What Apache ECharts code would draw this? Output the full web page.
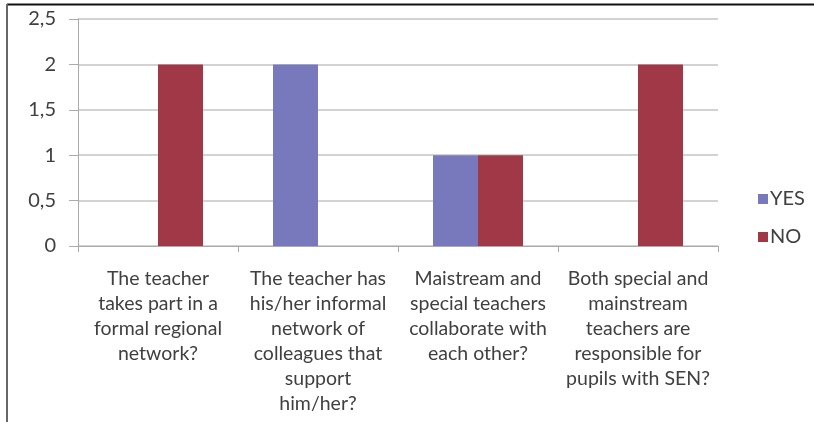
<!DOCTYPE html>
<html>
<head>
<meta charset="utf-8">
<script src="https://cdn.jsdelivr.net/npm/echarts@6/dist/echarts.min.js"></script>
<style>
html,body{margin:0;padding:0;background:#fff;}
#chart{width:814px;height:422px;}
</style>
</head>
<body>
<div id="chart"></div>
<script>
var categories = [
  "The teacher\ntakes part in a\nformal regional\nnetwork?",
  "The teacher has\nhis/her informal\nnetwork of\ncolleagues that\nsupport\nhim/her?",
  "Maistream and\nspecial teachers\ncollaborate with\neach other?",
  "Both special and\nmainstream\nteachers are\nresponsible for\npupils with SEN?"
];
var yesValues = [0, 2, 1, 0];
var noValues = [2, 0, 1, 2];
var seriesNames = ["YES", "NO"];

var FONT = "Lato";
var chart = echarts.init(document.getElementById('chart'), null, {renderer: 'canvas'});
chart.setOption({
  animation: false,
  backgroundColor: '#ffffff',
  textStyle: {fontFamily: FONT},
  graphic: [
    {type: 'line', shape: {x1: 7, y1: 4.5, x2: 814, y2: 4.5}, style: {stroke: '#111', lineWidth: 2}},
    {type: 'line', shape: {x1: 7, y1: 4, x2: 7, y2: 422}, style: {stroke: '#666', lineWidth: 2}}
  ],
  grid: {left: 78, right: 96, top: 19, bottom: 176},
  legend: {
    orient: 'vertical',
    left: 753,
    top: 184,
    itemWidth: 10,
    itemHeight: 10,
    itemGap: 18,
    icon: 'rect',
    textStyle: {fontFamily: FONT, fontSize: 20, color: '#404040', padding: [0, 0, 0, -3]},
    data: seriesNames
  },
  xAxis: {
    type: 'category',
    data: categories,
    axisLine: {lineStyle: {color: '#aaaaaa', width: 1}},
    axisTick: {show: true, length: 6, lineStyle: {color: '#aaaaaa'}},
    axisLabel: {
      interval: 0,
      margin: 20,
      fontFamily: FONT,
      fontSize: 19.5,
      lineHeight: 25,
      color: '#404040',
      align: 'center',
      verticalAlign: 'top'
    }
  },
  yAxis: {
    type: 'value',
    min: 0,
    max: 2.5,
    interval: 0.5,
    axisLine: {show: true, lineStyle: {color: '#aaaaaa'}},
    axisTick: {show: true, length: 9, lineStyle: {color: '#aaaaaa'}},
    splitLine: {lineStyle: {color: '#c4c4c4', width: 1.5}},
    axisLabel: {
      margin: 22,
      fontFamily: FONT,
      fontSize: 20,
      color: '#404040',
      formatter: function (v) { return String(v).replace('.', ','); }
    }
  },
  series: [
    {
      name: seriesNames[0],
      type: 'bar',
      data: yesValues,
      barWidth: 45,
      barGap: '0%',
      itemStyle: {color: '#7878BC'}
    },
    {
      name: seriesNames[1],
      type: 'bar',
      data: noValues,
      barWidth: 45,
      barGap: '0%',
      itemStyle: {color: '#A03848'}
    }
  ]
});
</script>
</body>
</html>
